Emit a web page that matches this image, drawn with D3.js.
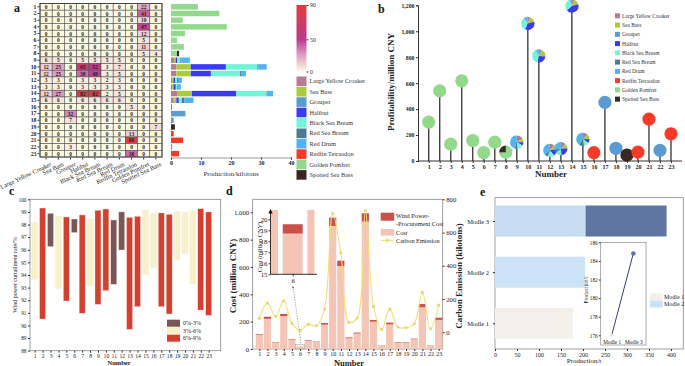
<!DOCTYPE html>
<html>
<head>
<meta charset="utf-8">
<script src="https://cdn.jsdelivr.net/npm/d3@7"></script>
<style>
  body { margin: 0; background: #fff; }
  svg text { font-family: "Liberation Serif", "DejaVu Serif", serif; }
</style>
</head>
<body>
<div id="chart"></div>
<script>
// ---- data ----
const species = ["Large Yellow Croaker", "Sea Bass", "Grouper", "Halibut", "Black Sea Bream",
    "Red Sea Bream", "Red Drum", "Redfin Tetraodon", "Golden Pomfret", "Spotted Sea Bass"];
const speciesColors = ["#b97a93", "#aacb3c", "#5b9bd0", "#3b3bf2", "#72f4d8",
    "#4f7a92", "#52b2f7", "#f83b29", "#93d98c", "#3a2622"];
const farms = [1, 2, 3, 4, 5, 6, 7, 8, 9, 10, 11, 12, 13, 14, 15, 16, 17, 18, 19, 20, 21, 22, 23];

// panel a heatmap (rows = farms, cols = species)
const density = [
    [0, 0, 0, 0, 0, 0, 0, 0, 22, 0],
    [0, 0, 0, 0, 0, 0, 0, 0, 41, 0],
    [0, 0, 0, 0, 0, 0, 0, 0, 10, 0],
    [0, 0, 0, 0, 0, 0, 0, 0, 47, 0],
    [0, 0, 0, 0, 0, 0, 0, 0, 12, 0],
    [0, 0, 0, 0, 0, 0, 0, 0, 5, 0],
    [0, 0, 0, 0, 0, 0, 0, 0, 11, 0],
    [0, 0, 0, 0, 0, 0, 0, 0, 5, 4],
    [6, 5, 0, 5, 5, 5, 5, 0, 0, 0],
    [12, 25, 0, 65, 52, 3, 7, 0, 0, 0],
    [12, 25, 0, 38, 48, 3, 5, 0, 0, 0],
    [3, 3, 0, 3, 3, 2, 3, 0, 0, 0],
    [3, 3, 0, 3, 3, 3, 3, 0, 0, 0],
    [12, 27, 0, 82, 82, 2, 5, 0, 0, 0],
    [6, 6, 0, 6, 6, 6, 6, 0, 0, 0],
    [0, 0, 0, 0, 0, 0, 0, 5, 0, 0],
    [0, 0, 32, 0, 0, 0, 0, 0, 0, 0],
    [0, 0, 7, 0, 0, 0, 0, 0, 0, 0],
    [0, 0, 0, 0, 0, 0, 0, 0, 0, 7],
    [0, 0, 0, 0, 0, 0, 0, 13, 0, 0],
    [0, 0, 0, 0, 0, 0, 0, 86, 0, 0],
    [0, 0, 3, 0, 0, 0, 0, 0, 0, 0],
    [0, 0, 0, 0, 0, 0, 0, 38, 0, 0]
];
// panel a production, kilotons
const production = [
    [0, 0, 0, 0, 0, 0, 0, 0, 9.0, 0],
    [0, 0, 0, 0, 0, 0, 0, 0, 16.1, 0],
    [0, 0, 0, 0, 0, 0, 0, 0, 3.9, 0],
    [0, 0, 0, 0, 0, 0, 0, 0, 18.6, 0],
    [0, 0, 0, 0, 0, 0, 0, 0, 4.7, 0],
    [0, 0, 0, 0, 0, 0, 0, 0, 2.0, 0],
    [0, 0, 0, 0, 0, 0, 0, 0, 4.3, 0],
    [0, 0, 0, 0, 0, 0, 0, 0, 2.0, 0.7],
    [1.0, 0.6, 0, 0.5, 1.0, 0.4, 2.8, 0, 0, 0],
    [1.8, 4.8, 0, 11.7, 10.5, 0.3, 2.8, 0, 0, 0],
    [1.8, 4.8, 0, 6.7, 9.7, 0.3, 1.7, 0, 0, 0],
    [0.4, 0.4, 0, 0.6, 0.6, 0.3, 1.3, 0, 0, 0],
    [0.4, 0.4, 0, 0.8, 0.5, 0.3, 0.9, 0, 0, 0],
    [2.0, 5.0, 0, 14.7, 10.2, 0.3, 1.8, 0, 0, 0],
    [0.9, 0.9, 0, 0.8, 1.0, 0.9, 3.0, 0, 0, 0],
    [0, 0, 0, 0, 0, 0, 0, 0.3, 0, 0],
    [0, 0, 4.8, 0, 0, 0, 0, 0, 0, 0],
    [0, 0, 0.9, 0, 0, 0, 0, 0, 0, 0],
    [0, 0, 0, 0, 0, 0, 0, 0, 0, 1.3],
    [0, 0, 0, 0, 0, 0, 0, 0.9, 0, 0],
    [0, 0, 0, 0, 0, 0, 0, 4.0, 0, 0],
    [0, 0, 0.4, 0, 0, 0, 0, 0, 0, 0],
    [0, 0, 0, 0, 0, 0, 0, 2.7, 0, 0]
];
const prodTicks = [0, 10, 20, 30, 40];
const colorbarTicks = [0, 50, 90];

// panel b
const profitability = [300, 540, 130, 618, 158, 65, 145, 68, 145, 1060, 810, 82, 95, 1195,
    167, 64, 452, 98, 46, 69, 323, 82, 210];
const profitTicks = [0, 200, 400, 600, 800, 1000, 1200];

// panel c
const curtailLow = [93.66, 90.51, 96.25, 92.94, 91.94, 97.36, 90.96, 93.15, 91.67, 92.76, 93.26, 95.98,
    89.69, 91.49, 94.03, 94.58, 91.49, 90.91, 95.19, 95.72, 93.29, 91.22, 90.8];
const curtailHigh = [98.15, 99.31, 98.89, 98.68, 98.6, 98.44, 98.76, 98.44, 99.13, 99.23, 98.36, 99.0,
    98.57, 98.65, 99.15, 98.92, 98.92, 98.81, 99.05, 98.97, 99.08, 99.26, 99.0];
const curtailGroup = ["3%-6%", "6%-9%", "0%-3%", "3%-6%", "6%-9%", "0%-3%", "6%-9%", "3%-6%", "6%-9%",
    "6%-9%", "0%-3%", "0%-3%", "6%-9%", "6%-9%", "3%-6%", "3%-6%", "6%-9%", "6%-9%", "3%-6%", "3%-6%",
    "3%-6%", "6%-9%", "6%-9%"];
const groups = ["0%-3%", "3%-6%", "6%-9%"];
const groupColors = ["#7b5657", "#f8f0c9", "#d2412f"];

// panel d
const cost = [103, 221, 48, 241, 69, 18.7, 62, 51, 178, 900, 607, 79, 113, 932, 200, 28, 180, 47, 45,
    72, 305, 28, 213];
const windCost = [5, 15, 3, 15, 4, 0.85, 4, 3, 12, 61, 39, 6, 7, 61, 12, 1, 13, 4, 4, 4, 24, 1, 16];
const carbon = [83, 175, 95, 189, 53, 11, 47, 39, 139, 714, 478, 59, 85, 732, 155, 17, 139, 31, 27,
    51, 240, 21, 163];
const insetFarms = [5, 6, 7];
const costTicks = [0, 200, 400, 600, 800, 1000];
const carbonTicks = [0, 200, 400, 600, 800];

// panel e
const modles = ["Modle 1", "Modle 2", "Modle 3"];
const modleBase = [176.6, 204.5, 206];
const modleExtra = [0, 0, 184];
const insetModles = ["Modle 1", "Modle 3"];
const insetProduction = [176, 184.8];

// ---- svg ----
const W = 685, H = 366;
const svg = d3.select("#chart").append("svg")
    .attr("width", W)
    .attr("height", H);
const defs = svg.append("defs");

function styleAxis(g, size, bold) {
    g.attr("font-family", "Liberation Serif").attr("font-size", size);
    if (bold) g.attr("font-weight", "bold");
    g.selectAll("path, line").attr("stroke", "#333");
    g.selectAll("text").attr("fill", "#222");
}

function panelLetter(x, y, t) {
    svg.append("text").attr("x", x).attr("y", y).text(t)
        .attr("font-size", 12).attr("font-weight", "bold").attr("fill", "#111");
}

// ================= panel a =================
panelLetter(14, 12, "a");

const hx = d3.scaleBand().domain(species).range([40, 162]);
const hy = d3.scaleBand().domain(farms).range([3.5, 157]);
const heatColor = d3.scaleLinear().domain([0, 25, 50, 90])
    .range(["#fcf9e1", "#e0a0c6", "#bb3a8f", "#e23b36"]);

const cells = density.flatMap((row, i) => row.map((v, j) => ({ farm: farms[i], sp: species[j], v })));

const gA = svg.append("g");
gA.selectAll("rect.cell").data(cells).enter().append("rect")
    .attr("class", "cell")
    .attr("x", d => hx(d.sp))
    .attr("y", d => hy(d.farm))
    .attr("width", hx.bandwidth())
    .attr("height", hy.bandwidth())
    .attr("fill", d => heatColor(d.v))
    .attr("stroke", "#555")
    .attr("stroke-width", 0.6);
gA.selectAll("text.cell").data(cells).enter().append("text")
    .attr("class", "cell")
    .attr("x", d => hx(d.sp) + hx.bandwidth() / 2)
    .attr("y", d => hy(d.farm) + hy.bandwidth() / 2 + 2)
    .attr("text-anchor", "middle")
    .attr("font-size", 5.4)
    .attr("font-weight", "bold")
    .attr("fill", "#222")
    .text(d => d.v);
gA.append("rect").attr("x", 40).attr("y", 3.5).attr("width", 122).attr("height", 153.5)
    .attr("fill", "none").attr("stroke", "#444").attr("stroke-width", 1);

const rowAxis = gA.append("g").attr("transform", "translate(39.5,0)")
    .call(d3.axisLeft(hy).tickSize(2).tickPadding(1));
rowAxis.select(".domain").remove();
styleAxis(rowAxis, 5.8, true);

const colAxis = gA.append("g").attr("transform", "translate(0,157.5)")
    .call(d3.axisBottom(hx).tickSize(2).tickPadding(1));
colAxis.select(".domain").remove();
styleAxis(colAxis, 6.3, false);
colAxis.selectAll("text")
    .attr("text-anchor", "end")
    .attr("transform", "translate(3,2) rotate(-25)")
    .attr("dy", "0.6em");

// stacked production bars
const px = d3.scaleLinear().domain([0, 40]).range([171, 291]);
const stacked = d3.stack().keys(d3.range(species.length))(production);
const gBars = gA.append("g");
stacked.forEach((layer, k) => {
    gBars.selectAll(null).data(layer).enter().append("rect")
        .attr("x", d => px(d[0]))
        .attr("y", (d, i) => hy(farms[i]) + 0.6)
        .attr("width", d => Math.max(0, px(d[1]) - px(d[0])))
        .attr("height", hy.bandwidth() - 1.2)
        .attr("fill", speciesColors[k]);
});
const prodAxis = gA.append("g").attr("transform", "translate(0,157.5)")
    .call(d3.axisBottom(px).tickValues(prodTicks).tickSize(2).tickPadding(1.5));
styleAxis(prodAxis, 6, true);
prodAxis.select(".domain").attr("stroke", "#999");
gA.append("text").attr("x", 231).attr("y", 176).attr("text-anchor", "middle")
    .attr("font-size", 7).attr("fill", "#333").text("Production/kilotons");

// colour bar
const cb = d3.scaleLinear().domain([0, 50, 90]).range([71.5, 39.3, 5]);
const grad = defs.append("linearGradient").attr("id", "cbar")
    .attr("gradientUnits", "userSpaceOnUse")
    .attr("x1", 0).attr("y1", 71.5).attr("x2", 0).attr("y2", 5);
d3.range(0, 91, 5).forEach(v => {
    grad.append("stop").attr("offset", (71.5 - cb(v)) / 66.5).attr("stop-color", heatColor(v));
});
gA.append("rect").attr("x", 296.5).attr("y", 5).attr("width", 10).attr("height", 66.5)
    .attr("fill", "url(#cbar)");
const cbAxis = gA.append("g").attr("transform", "translate(306.5,0)")
    .call(d3.axisRight(cb).tickValues(colorbarTicks).tickSize(2).tickPadding(1.5));
cbAxis.select(".domain").remove();
styleAxis(cbAxis, 5.8, false);

// species legend
const legA = gA.append("g");
species.forEach((s, i) => {
    legA.append("rect").attr("x", 296.5).attr("y", 76.5 + i * 10.4)
        .attr("width", 10).attr("height", 9.6).attr("fill", speciesColors[i]);
    legA.append("text").attr("x", 309.5).attr("y", 83.3 + i * 10.4)
        .attr("font-size", 6.3).attr("fill", "#333").text(s);
});

// ================= panel b =================
panelLetter(378, 13, "b");
const bx = d3.scaleLinear().domain([0, 24]).range([417.7, 682]);
const by = d3.scaleLinear().domain([0, 1200]).range([161, 5.3]);
const gB = svg.append("g");

const byAxis = gB.append("g").attr("transform", "translate(418,0)")
    .call(d3.axisLeft(by).tickValues(profitTicks).tickFormat(d3.format(",")).tickSize(2).tickPadding(1.5));
styleAxis(byAxis, 5.8, true);
const bxAxis = gB.append("g").attr("transform", "translate(0,161)")
    .call(d3.axisBottom(bx).tickValues(farms).tickSize(2).tickPadding(1.5));
styleAxis(bxAxis, 6, true);
bxAxis.select(".domain").attr("d", "M417.7,0H682");

gB.selectAll("line.stem").data(profitability).enter().append("line")
    .attr("x1", (d, i) => bx(farms[i])).attr("x2", (d, i) => bx(farms[i]))
    .attr("y1", by(0)).attr("y2", d => by(d))
    .attr("stroke", "#333").attr("stroke-width", 1.3);

const pie = d3.pie().sort(null).value(d => d.v);
const arc = d3.arc().innerRadius(0).outerRadius(6.6);
farms.forEach((f, i) => {
    const parts = production[i].map((v, k) => ({ v, k })).filter(d => d.v > 0);
    const g = gB.append("g").attr("transform", `translate(${bx(f)},${by(profitability[i])})`);
    if (parts.length === 1) {
        g.append("circle").attr("r", 6.6).attr("fill", speciesColors[parts[0].k]);
    } else {
        g.selectAll("path").data(pie(parts)).enter().append("path")
            .attr("d", arc).attr("fill", d => speciesColors[d.data.k]);
    }
});

gB.append("text").attr("transform", "translate(394,82) rotate(-90)")
    .attr("text-anchor", "middle").attr("font-size", 9).attr("font-weight", "bold")
    .attr("fill", "#222").text("Profitability/million CNY");
gB.append("text").attr("x", 551).attr("y", 177).attr("text-anchor", "middle")
    .attr("font-size", 9).attr("font-weight", "bold").attr("fill", "#222").text("Number");

const legB = gB.append("g");
species.forEach((s, i) => {
    legB.append("rect").attr("x", 615).attr("y", 13.3 + i * 9.26)
        .attr("width", 5).attr("height", 5).attr("fill", speciesColors[i]);
    legB.append("text").attr("x", 622).attr("y", 17.8 + i * 9.26)
        .attr("font-size", 5.4).attr("fill", "#333").text(s);
});

// ================= panel c =================
panelLetter(9, 195, "c");
const cx = d3.scaleLinear().domain([1, 23]).range([34.7, 208.7]);
const cy = d3.scaleLinear().domain([88, 100]).range([350.7, 199.3]);
const groupColor = d3.scaleOrdinal().domain(groups).range(groupColors);
const gC = svg.append("g");
gC.append("rect").attr("x", 30).attr("y", 199.3).attr("width", 190.7).attr("height", 151.4)
    .attr("fill", "none").attr("stroke", "#888").attr("stroke-width", 0.8);
gC.selectAll("rect.bar").data(farms).enter().append("rect")
    .attr("class", "bar")
    .attr("x", (d, i) => cx(d) - 3)
    .attr("y", (d, i) => cy(curtailHigh[i]))
    .attr("width", 6)
    .attr("height", (d, i) => cy(curtailLow[i]) - cy(curtailHigh[i]))
    .attr("fill", (d, i) => groupColor(curtailGroup[i]))
    .attr("stroke", "#fbe9e4").attr("stroke-width", 0.4);
const cyAxis = gC.append("g").attr("transform", "translate(30,0)")
    .call(d3.axisLeft(cy).ticks(12).tickSize(2).tickPadding(1.5));
cyAxis.select(".domain").remove();
styleAxis(cyAxis, 5.3, false);
const cxAxis = gC.append("g").attr("transform", "translate(0,350.7)")
    .call(d3.axisBottom(cx).tickValues(farms).tickSize(2).tickPadding(1.5));
cxAxis.select(".domain").remove();
styleAxis(cxAxis, 5.6, false);
gC.append("text").attr("transform", "translate(17,275) rotate(-90)")
    .attr("text-anchor", "middle").attr("font-size", 6).attr("fill", "#222")
    .text("Wind power curtailment rate/%");
gC.append("text").attr("x", 119).attr("y", 365).attr("text-anchor", "middle")
    .attr("font-size", 6.5).attr("font-weight", "bold").attr("fill", "#222").text("Number");
groups.forEach((g, i) => {
    gC.append("rect").attr("x", 167).attr("y", 319.7 + i * 7.5).attr("width", 13).attr("height", 7)
        .attr("fill", groupColors[i]);
    gC.append("text").attr("x", 183).attr("y", 325.3 + i * 7.5).attr("font-size", 6)
        .attr("fill", "#222").text(g);
});

// ================= panel d =================
panelLetter(226, 195, "d");
const dx = d3.scaleLinear().domain([1, 23]).range([259.3, 438.7]);
const dyL = d3.scaleLinear().domain([0, 1095]).range([349, 199.3]);
const dyR = d3.scaleLinear().domain([-101, 800]).range([349, 199.3]);
const gD = svg.append("g");
gD.append("rect").attr("x", 252.7).attr("y", 199.3).attr("width", 190).attr("height", 149.7)
    .attr("fill", "none").attr("stroke", "#888").attr("stroke-width", 0.8);

gD.selectAll("rect.cost").data(cost).enter().append("rect")
    .attr("x", (d, i) => dx(farms[i]) - 3.6).attr("width", 7.2)
    .attr("y", d => dyL(d)).attr("height", d => dyL(0) - dyL(d))
    .attr("fill", "#f4c5b5");
gD.selectAll("rect.wind").data(windCost).enter().append("rect")
    .attr("x", (d, i) => dx(farms[i]) - 3.6).attr("width", 7.2)
    .attr("y", (d, i) => dyL(cost[i] + d)).attr("height", (d, i) => dyL(cost[i]) - dyL(cost[i] + d))
    .attr("fill", "#c9514a");

const carbonLine = d3.line()
    .x((d, i) => dx(farms[i]))
    .y(d => dyR(d))
    .curve(d3.curveCatmullRom);
gD.append("path").datum(carbon).attr("d", carbonLine)
    .attr("fill", "none").attr("stroke", "#f3de78").attr("stroke-width", 1.1);
gD.selectAll("circle.carbon").data(carbon).enter().append("circle")
    .attr("cx", (d, i) => dx(farms[i])).attr("cy", d => dyR(d)).attr("r", 1.6)
    .attr("fill", "#efd665");

const dyLAxis = gD.append("g").attr("transform", "translate(252.7,0)")
    .call(d3.axisLeft(dyL).tickValues(costTicks).tickSize(2).tickPadding(1.5));
dyLAxis.select(".domain").remove();
styleAxis(dyLAxis, 6.8, false);
const dyRAxis = gD.append("g").attr("transform", "translate(442.7,0)")
    .call(d3.axisRight(dyR).tickValues(carbonTicks).tickSize(2).tickPadding(1.5));
dyRAxis.select(".domain").remove();
styleAxis(dyRAxis, 6.8, false);
const dxAxis = gD.append("g").attr("transform", "translate(0,349)")
    .call(d3.axisBottom(dx).tickValues(farms).tickSize(2).tickPadding(1));
dxAxis.select(".domain").remove();
styleAxis(dxAxis, 6, false);

gD.append("text").attr("transform", "translate(236,276) rotate(-90)")
    .attr("text-anchor", "middle").attr("font-size", 9).attr("font-weight", "bold")
    .attr("fill", "#222").text("Cost (million CNY)");
gD.append("text").attr("transform", "translate(462,276) rotate(-90)")
    .attr("text-anchor", "middle").attr("font-size", 9).attr("font-weight", "bold")
    .attr("fill", "#222").text("Carbon Emission (kilotons)");
gD.append("text").attr("x", 349).attr("y", 365.5).attr("text-anchor", "middle")
    .attr("font-size", 8.5).attr("font-weight", "bold").attr("fill", "#222").text("Number");

// legend d
gD.append("rect").attr("x", 380.7).attr("y", 212.7).attr("width", 13.5).attr("height", 8)
    .attr("fill", "#c9514a");
gD.append("text").attr("x", 396).attr("y", 217.5).attr("font-size", 6.3).attr("fill", "#222").text("Wind Power-");
gD.append("text").attr("x", 396).attr("y", 225.5).attr("font-size", 6.3).attr("fill", "#222").text("-Procurement Cost");
gD.append("rect").attr("x", 380.7).attr("y", 229).attr("width", 13.5).attr("height", 6.7)
    .attr("fill", "#f4c5b5");
gD.append("text").attr("x", 396).attr("y", 234.5).attr("font-size", 6.3).attr("fill", "#222").text("Cost");
gD.append("line").attr("x1", 380.7).attr("x2", 394.2).attr("y1", 240.3).attr("y2", 240.3)
    .attr("stroke", "#f3de78").attr("stroke-width", 1.1);
gD.append("circle").attr("cx", 387.5).attr("cy", 240.3).attr("r", 1.6).attr("fill", "#efd665");
gD.append("text").attr("x", 396).attr("y", 242.5).attr("font-size", 6.3).attr("fill", "#222").text("Carbon Emission");

// inset: zoom on farm 6
const ix = d3.scaleLinear().domain([5, 7]).range([268, 317.4]);
const iy = d3.scaleLinear().domain([15, 20]).range([274.3, 219.3]);
defs.append("clipPath").attr("id", "insetClip").append("rect")
    .attr("x", 270.5).attr("y", 210).attr("width", 44).attr("height", 64.3);
const gI = gD.append("g").attr("clip-path", "url(#insetClip)");
insetFarms.forEach(f => {
    const i = farms.indexOf(f);
    gI.append("rect").attr("x", ix(f) - 10).attr("width", 20)
        .attr("y", iy(cost[i])).attr("height", iy(15) - iy(cost[i]) + 1).attr("fill", "#f4c5b5");
    gI.append("rect").attr("x", ix(f) - 10).attr("width", 20)
        .attr("y", iy(cost[i] + windCost[i])).attr("height", iy(cost[i]) - iy(cost[i] + windCost[i]))
        .attr("fill", "#c9514a");
});
const iyAxis = gD.append("g").attr("transform", "translate(270.5,0)")
    .call(d3.axisLeft(iy).ticks(5).tickSize(2).tickPadding(1));
styleAxis(iyAxis, 6.8, false);
iyAxis.select(".domain").attr("d", "M0,274.3V212");
gD.append("path").attr("d", "M270.5,209L268.3,213.5H272.7Z").attr("fill", "#111");
const ixAxis = gD.append("g").attr("transform", "translate(0,274.3)")
    .call(d3.axisBottom(ix).tickValues([6]).tickFormat(d3.format("d")).tickSize(2).tickPadding(1.5));
styleAxis(ixAxis, 6.8, false);
ixAxis.select(".domain").attr("d", "M270.5,0H317");
gD.append("text").attr("transform", "translate(262,247) rotate(-90)")
    .attr("text-anchor", "middle").attr("font-size", 6.3).attr("fill", "#222")
    .text("Cost (million CNY)");

// pointer from main bar 6 to the inset
defs.append("marker").attr("id", "arrowHead").attr("viewBox", "0 0 6 6")
    .attr("refX", 3).attr("refY", 3).attr("markerWidth", 4).attr("markerHeight", 4)
    .attr("orient", "auto")
    .append("path").attr("d", "M0,0L6,3L0,6Z").attr("fill", "#666");
gD.append("rect").attr("x", dx(6) - 4.5).attr("y", 344.5).attr("width", 9).attr("height", 4.5)
    .attr("fill", "none").attr("stroke", "#999").attr("stroke-width", 0.5);
gD.append("line").attr("x1", dx(6) + 1).attr("y1", 343.5).attr("x2", 293).attr("y2", 287)
    .attr("stroke", "#777").attr("stroke-width", 0.6).attr("stroke-dasharray", "1.5,1.2")
    .attr("marker-end", "url(#arrowHead)");

// ================= panel e =================
panelLetter(480, 196, "e");
const ex = d3.scaleLinear().domain([0, 428]).range([495, 683.3]);
const ey = d3.scalePoint().domain(modles).range([323.3, 221]);
const gE = svg.append("g");
gE.append("rect").attr("x", 495).attr("y", 197.7).attr("width", 188.3).attr("height", 151.3)
    .attr("fill", "none").attr("stroke", "#888").attr("stroke-width", 0.8);
const baseColors = ["#f3f0e9", "#cce2f6", "#c6dcf1"];
gE.selectAll("rect.base").data(modleBase).enter().append("rect")
    .attr("x", ex(0)).attr("y", (d, i) => ey(modles[i]) - 15.5)
    .attr("width", d => ex(d) - ex(0)).attr("height", 31)
    .attr("fill", (d, i) => baseColors[i]);
gE.selectAll("rect.extra").data(modleExtra).enter().append("rect")
    .attr("x", (d, i) => ex(modleBase[i])).attr("y", (d, i) => ey(modles[i]) - 15.5)
    .attr("width", d => ex(d) - ex(0)).attr("height", 31)
    .attr("fill", "#5f76a3");
const exAxis = gE.append("g").attr("transform", "translate(0,349)")
    .call(d3.axisBottom(ex).tickValues(d3.range(0, 401, 50)).tickSize(2).tickPadding(1.5));
exAxis.select(".domain").remove();
styleAxis(exAxis, 6, false);
const eyAxis = gE.append("g").attr("transform", "translate(495,0)")
    .call(d3.axisLeft(ey).tickSize(2).tickPadding(4));
eyAxis.select(".domain").remove();
styleAxis(eyAxis, 6.5, false);
gE.append("text").attr("x", 584).attr("y", 363).attr("text-anchor", "middle")
    .attr("font-size", 7).attr("fill", "#222").text("Production/t");

// inset e
const iex = d3.scalePoint().domain(insetModles).range([611.7, 633.3]);
const iey = d3.scaleLinear().domain([176, 186]).range([335.3, 242.3]);
gE.append("rect").attr("x", 600.7).attr("y", 242.3).attr("width", 45.3).attr("height", 102.7)
    .attr("fill", "#fff").attr("stroke", "#888").attr("stroke-width", 0.7);
gE.append("line")
    .attr("x1", iex(insetModles[0])).attr("y1", iey(insetProduction[0]))
    .attr("x2", iex(insetModles[1])).attr("y2", iey(insetProduction[1]))
    .attr("stroke", "#2f3f7a").attr("stroke-width", 1);
gE.append("circle").attr("cx", iex(insetModles[0])).attr("cy", iey(insetProduction[0])).attr("r", 1.8)
    .attr("fill", "#efe9d2");
gE.append("circle").attr("cx", iex(insetModles[1])).attr("cy", iey(insetProduction[1])).attr("r", 2.3)
    .attr("fill", "#5f76a3");
const ieyAxis = gE.append("g").attr("transform", "translate(600.7,0)")
    .call(d3.axisLeft(iey).tickValues([176, 178, 180, 182, 184, 186]).tickSize(2).tickPadding(1));
ieyAxis.select(".domain").remove();
styleAxis(ieyAxis, 5.3, false);
const iexAxis = gE.append("g").attr("transform", "translate(0,339)")
    .call(d3.axisBottom(iex).tickSize(0).tickPadding(1.5));
iexAxis.select(".domain").remove();
styleAxis(iexAxis, 5.3, false);
gE.append("text").attr("transform", "translate(588,290) rotate(-90)")
    .attr("text-anchor", "middle").attr("font-size", 5.5).attr("fill", "#222").text("Production/t");

// legend e
["Modle 1", "Modle 2"].forEach((m, i) => {
    gE.append("rect").attr("x", 650).attr("y", 293.3 + i * 7.2).attr("width", 12.7).attr("height", 7)
        .attr("fill", baseColors[i]);
    gE.append("text").attr("x", 664).attr("y", 298.8 + i * 7.2).attr("font-size", 6)
        .attr("fill", "#222").text(m);
});
</script>
</body>
</html>
